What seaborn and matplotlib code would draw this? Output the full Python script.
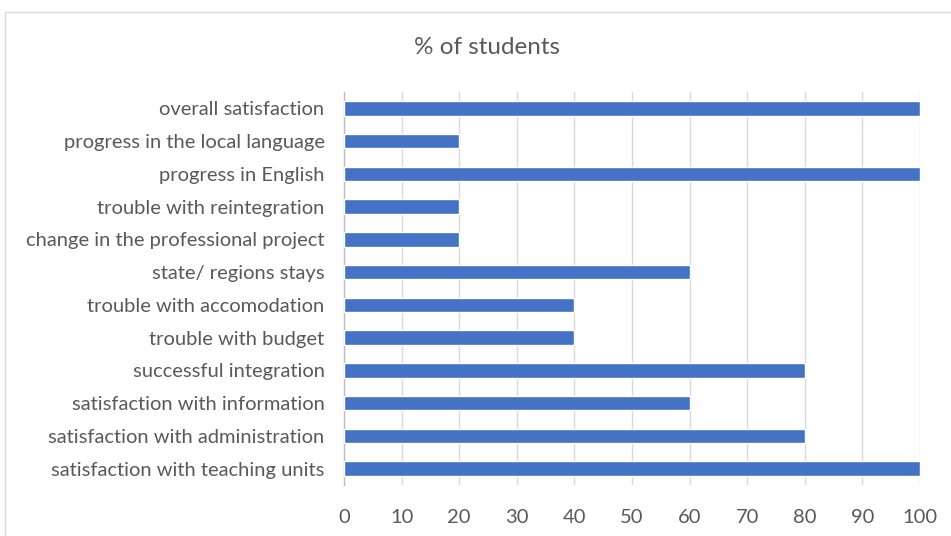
import matplotlib
matplotlib.use("Agg")
import pandas as pd
import seaborn as sns
import matplotlib.pyplot as plt
from matplotlib.patches import Rectangle

# Data
categories = [
    "overall satisfaction",
    "progress in the local language",
    "progress in English",
    "trouble with reintegration",
    "change in the professional project",
    "state/ regions stays",
    "trouble with accomodation",
    "trouble with budget",
    "successful integration",
    "satisfaction with information",
    "satisfaction with administration",
    "satisfaction with teaching units",
]
values = [100, 20, 100, 20, 20, 60, 40, 40, 80, 60, 80, 100]
xticks = [0, 10, 20, 30, 40, 50, 60, 70, 80, 90, 100]

df = pd.DataFrame({"category": categories, "value": values})

sns.set_theme(style="white")
plt.rcParams["font.family"] = ["Lato", "DejaVu Sans"]
text_color = "#595959"

fig = plt.figure(figsize=(9.51, 5.36), dpi=100)
ax = fig.add_axes([344 / 951, 1 - 485 / 536, (920 - 344) / 951, (485 - 92) / 536])

sns.barplot(data=df, x="value", y="category", orient="h", color="#4472C4",
            width=0.45, saturation=1, ax=ax, zorder=3)

ax.set_xlim(0, 100)
ax.set_ylim(len(categories) - 0.5, -0.5)
ax.set_xticks(xticks)
ax.grid(axis="x", color="#D9D9D9", linewidth=1, zorder=0)
ax.set_xlabel("")
ax.set_ylabel("")
ax.tick_params(axis="both", length=0, labelsize=14.5, labelcolor=text_color)
ax.tick_params(axis="x", pad=17)
ax.tick_params(axis="y", pad=14)
for s in ["top", "right", "bottom"]:
    ax.spines[s].set_visible(False)
ax.spines["left"].set_color("#BFBFBF")
ax.spines["left"].set_linewidth(1)

fig.text(487 / 951, 1 - 47 / 536, "% of students", ha="center", va="center",
         fontsize=17.5, color=text_color)

# chart border
fig.patches.append(Rectangle((5 / 951, -0.1), 1.0, 1 - 12 / 536 + 0.1,
                             transform=fig.transFigure, fill=False,
                             edgecolor="#D9D9D9", linewidth=1))

fig.savefig("out.png", dpi=100)
